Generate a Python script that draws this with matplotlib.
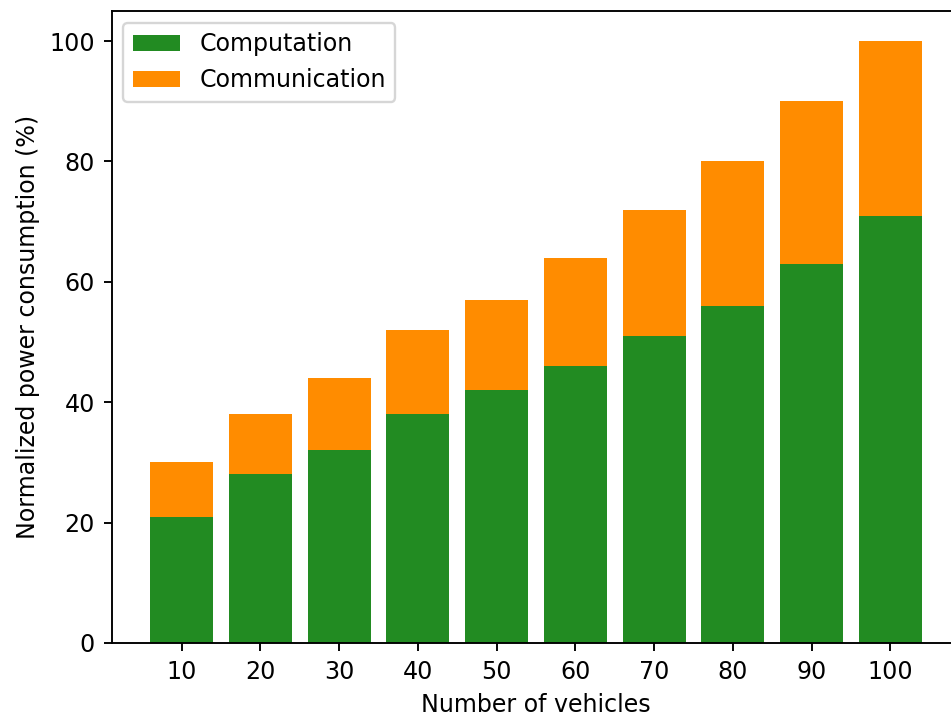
import matplotlib
matplotlib.use("Agg")
import matplotlib.pyplot as plt

vehicles = ["10", "20", "30", "40", "50", "60", "70", "80", "90", "100"]
computation = [21, 28, 32, 38, 42, 46, 51, 56, 63, 71]
communication = [9, 10, 12, 14, 15, 18, 21, 24, 27, 29]

# Everything is drawn at 1.712x the default matplotlib sizes
s = 1.712
plt.rcParams.update({
    "font.size": 10 * s,
    "axes.linewidth": 0.8 * s,
    "axes.labelpad": 4.0 * s,
    "xtick.major.size": 3.5 * s,
    "ytick.major.size": 3.5 * s,
    "xtick.major.width": 0.8 * s,
    "ytick.major.width": 0.8 * s,
    "xtick.major.pad": 3.5 * s,
    "ytick.major.pad": 3.5 * s,
    "patch.linewidth": 1.0 * s,
})

W, H = 951, 718
fig = plt.figure(figsize=(W / 100, H / 100), dpi=100)
# plot area runs slightly past the right edge of the canvas
ax = fig.add_axes([111.5 / W, 75 / H, 849 / W, 632 / H])
ax.bar(vehicles, computation, color="forestgreen", label="Computation")
ax.bar(vehicles, communication, bottom=computation, color="darkorange",
       label="Communication")
ax.set_xlabel("Number of vehicles")
ax.set_ylabel("Normalized power consumption (%)")
ax.legend(loc="upper left")
fig.savefig("out.png", dpi=100)
